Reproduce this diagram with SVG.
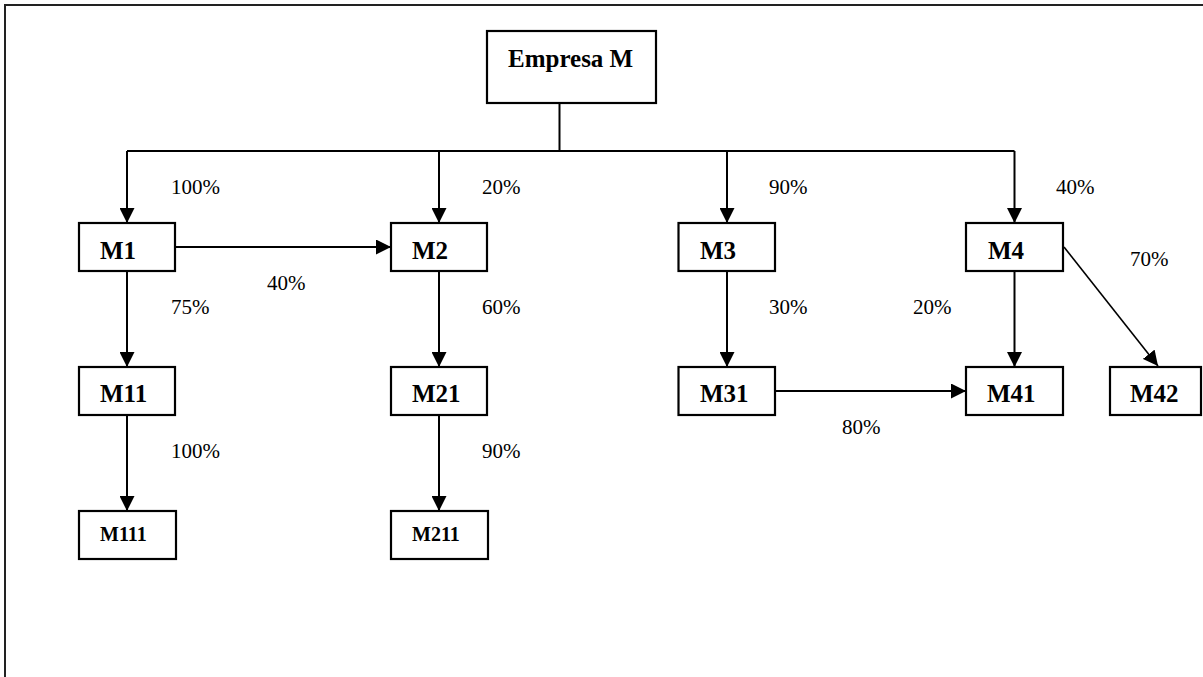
<svg xmlns="http://www.w3.org/2000/svg" width="1203" height="677" viewBox="0 0 1203 677">
<style>
.box{fill:#fff;stroke:#000;stroke-width:2.2}
.lbl{font-family:"Liberation Serif","Times New Roman",serif;font-weight:bold;font-size:25px;fill:#000}
.sm{font-size:20px}
.pct{font-family:"Liberation Serif","Times New Roman",serif;font-size:21px;fill:#000}
.ln{fill:none;stroke:#000;stroke-width:2}
.frame{fill:none;stroke:#222;stroke-width:2}
</style>
<defs>
<marker id="ah" markerUnits="userSpaceOnUse" markerWidth="15" markerHeight="15" refX="15" refY="7.5" orient="auto">
<path d="M0,0 L15,7.5 L0,15 z" fill="#000"/>
</marker>
</defs>
<rect width="1203" height="677" fill="#fff"/>
<path class="frame" d="M5,677 L5,5 L1203,5"/>
<g id="connectors">
<path class="ln" d="M559.5,103 L559.5,151"/>
<path class="ln" d="M127,151 L1014.5,151"/>
<path class="ln" d="M127,151 L127,223" marker-end="url(#ah)"/>
<path class="ln" d="M439,151 L439,223" marker-end="url(#ah)"/>
<path class="ln" d="M727,151 L727,223" marker-end="url(#ah)"/>
<path class="ln" d="M1014.5,151 L1014.5,223" marker-end="url(#ah)"/>
<path class="ln" d="M175,247 L391,247" marker-end="url(#ah)"/>
<path class="ln" d="M127,271 L127,367" marker-end="url(#ah)"/>
<path class="ln" d="M439,267 L439,367" marker-end="url(#ah)"/>
<path class="ln" d="M727,267 L727,367" marker-end="url(#ah)"/>
<path class="ln" d="M1014.5,267 L1014.5,367" marker-end="url(#ah)"/>
<path class="ln" style="stroke-width:1.6" d="M1064,247 L1158,366" marker-end="url(#ah)"/>
<path class="ln" d="M775,391 L966,391" marker-end="url(#ah)"/>
<path class="ln" d="M127,411 L127,511" marker-end="url(#ah)"/>
<path class="ln" d="M439,411 L439,511" marker-end="url(#ah)"/>
<text class="pct" x="171" y="194">100%</text>
<text class="pct" x="482" y="194">20%</text>
<text class="pct" x="769" y="194">90%</text>
<text class="pct" x="1056" y="194">40%</text>
<text class="pct" x="267" y="290">40%</text>
<text class="pct" x="171" y="314">75%</text>
<text class="pct" x="482" y="314">60%</text>
<text class="pct" x="769" y="314">30%</text>
<text class="pct" x="913" y="314">20%</text>
<text class="pct" x="1130" y="266">70%</text>
<text class="pct" x="842" y="434">80%</text>
<text class="pct" x="171" y="458">100%</text>
<text class="pct" x="482" y="458">90%</text>
</g>
<g id="empresa"><rect class="box" x="487" y="31" width="169" height="72"/><text class="lbl" x="508" y="66.5">Empresa M</text></g>
<g id="m1"><rect class="box" x="79" y="223" width="96" height="48"/><text class="lbl" x="100" y="259">M1</text></g>
<g id="m2"><rect class="box" x="391" y="223" width="96" height="48"/><text class="lbl" x="412" y="259">M2</text></g>
<g id="m3"><rect class="box" x="678.5" y="223" width="96.5" height="48"/><text class="lbl" x="700" y="259">M3</text></g>
<g id="m4"><rect class="box" x="966" y="223" width="97" height="48"/><text class="lbl" x="988" y="259">M4</text></g>
<g id="m11"><rect class="box" x="79" y="367" width="96" height="48"/><text class="lbl" x="100" y="402">M11</text></g>
<g id="m21"><rect class="box" x="391" y="367" width="96" height="48"/><text class="lbl" x="412" y="402">M21</text></g>
<g id="m31"><rect class="box" x="678.5" y="367" width="96.5" height="48"/><text class="lbl" x="700" y="402">M31</text></g>
<g id="m41"><rect class="box" x="966" y="367" width="97" height="48"/><text class="lbl" x="987" y="402">M41</text></g>
<g id="m42"><rect class="box" x="1110" y="367" width="91" height="48"/><text class="lbl" x="1130" y="402">M42</text></g>
<g id="m111"><rect class="box" x="79" y="511" width="97" height="48"/><text class="lbl sm" x="100" y="541">M111</text></g>
<g id="m211"><rect class="box" x="391" y="511" width="97" height="48"/><text class="lbl sm" x="412" y="541">M211</text></g>
</svg>
